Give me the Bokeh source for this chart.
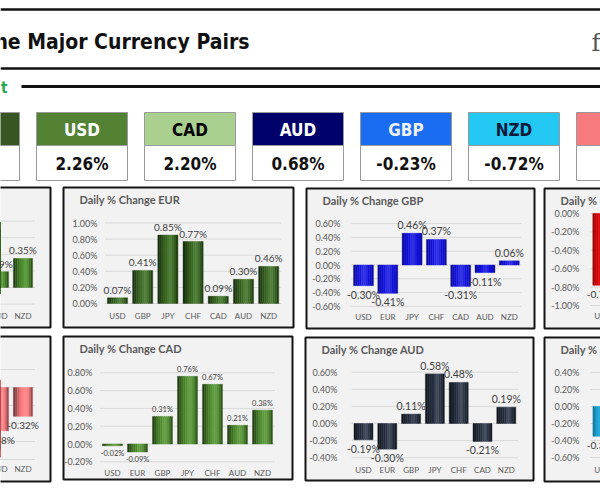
from bokeh.plotting import figure
from bokeh.models import Range1d
from bokeh.core.properties import value
from bokeh.embed import file_html
from bokeh.resources import INLINE

# ---------------- data ----------------
rank_ccy = ["EUR", "USD", "CAD", "AUD", "GBP", "NZD", "CHF", "JPY"]
rank_vals = [2.95, 2.26, 2.20, 0.68, -0.23, -0.72, -3.22, -3.89]
rank_colors = ["#375623", "#548235", "#A9D08E", "#00006B", "#1A6CF0", "#22C8F2", "#F77A7F", "#E00000"]
rank_text_colors = ["white", "white", "black", "white", "#EEF2FF", "#0A1A3A", "black", "white"]

usd_cats = ["EUR", "GBP", "JPY", "CHF", "CAD", "AUD", "NZD"]
usd_vals = [-0.07, 0.30, 0.78, 0.69, 0.02, 0.19, 0.35]
usd_ticks = [-0.2, 0.0, 0.2, 0.4, 0.6, 0.8]

eur_cats = ["USD", "GBP", "JPY", "CHF", "CAD", "AUD", "NZD"]
eur_vals = [0.07, 0.41, 0.85, 0.77, 0.09, 0.30, 0.46]
eur_ticks = [0.0, 0.2, 0.4, 0.6, 0.8, 1.0]

gbp_cats = ["USD", "EUR", "JPY", "CHF", "CAD", "AUD", "NZD"]
gbp_vals = [-0.30, -0.41, 0.46, 0.37, -0.31, -0.11, 0.06]
gbp_ticks = [-0.6, -0.4, -0.2, 0.0, 0.2, 0.4, 0.6]

jpy_cats = ["USD", "EUR", "GBP", "CHF", "CAD", "AUD", "NZD"]
jpy_vals = [-0.78, -0.85, -0.46, -0.08, -0.76, -0.58, -0.38]
jpy_ticks = [-1.0, -0.8, -0.6, -0.4, -0.2, 0.0]

chf_cats = ["USD", "EUR", "GBP", "JPY", "CAD", "AUD", "NZD"]
chf_vals = [-0.69, -0.77, -0.37, 0.08, -0.67, -0.48, -0.32]
chf_ticks = [-0.8, -0.6, -0.4, -0.2, 0.0, 0.2]

cad_cats = ["USD", "EUR", "GBP", "JPY", "CHF", "AUD", "NZD"]
cad_vals = [-0.02, -0.09, 0.31, 0.76, 0.67, 0.21, 0.38]
cad_ticks = [-0.2, 0.0, 0.2, 0.4, 0.6, 0.8]

aud_cats = ["USD", "EUR", "GBP", "JPY", "CHF", "CAD", "NZD"]
aud_vals = [-0.19, -0.30, 0.11, 0.58, 0.48, -0.21, 0.19]
aud_ticks = [-0.4, -0.2, 0.0, 0.2, 0.4, 0.6]

nzd_cats = ["USD", "EUR", "GBP", "JPY", "CHF", "CAD", "AUD"]
nzd_vals = [-0.35, -0.46, -0.06, 0.38, 0.32, -0.38, -0.19]
nzd_ticks = [-0.6, -0.4, -0.2, 0.0, 0.2, 0.4]

# ---------------- canvas ----------------
W, H = 600, 504
p = figure(width=W, height=H, x_range=Range1d(0, W), y_range=Range1d(H, 0),
           output_backend="svg", toolbar_location=None, min_border=0,
           x_axis_location=None, y_axis_location=None, outline_line_color=None,
           background_fill_color="white", border_fill_color="white")
p.grid.visible = False

NARROW = value("DejaVu Sans Condensed")
LATO = value("Lato")


def on_canvas(x):
    return -12 <= x <= W + 12


# header lines
p.segment(x0=[0, 0, 21], x1=[600, 600, 600], y0=[9, 68, 86], y1=[9, 68, 86],
          line_color="#111111", line_width=[2.5, 2.5, 3])
p.text(x=[249], y=[41], text=["The Major Currency Pairs"], text_align="right",
       text_baseline="middle", text_font=NARROW, text_font_style="bold",
       text_font_size="21px", text_color="#111111")
p.text(x=[7], y=[87], text=["t"], text_align="right", text_baseline="middle",
       text_font=NARROW, text_font_style="bold", text_font_size="15px", text_color="#1FA84F")
p.text(x=[591], y=[42], text=["f"], text_align="left", text_baseline="middle",
       text_font=value("DejaVu Serif"), text_font_size="24px", text_color="#555555")

# ranking boxes
pitch_box, bw_box, left0 = 108, 91, 36 - 108
bx0 = [left0 + pitch_box * i for i in range(len(rank_ccy))]
bx1 = [x + bw_box for x in bx0]
bxc = [x + bw_box / 2 for x in bx0]
n_r = len(rank_ccy)
p.quad(left=bx0, right=bx1, top=[112] * n_r, bottom=[145] * n_r,
       fill_color=rank_colors, line_color="#9a9a9a", line_width=1)
p.quad(left=bx0, right=bx1, top=[145] * n_r, bottom=[180] * n_r,
       fill_color="white", line_color="#9a9a9a", line_width=1)
vis = [i for i in range(n_r) if on_canvas(bxc[i])]
p.text(x=[bxc[i] for i in vis], y=[129] * len(vis), text=[rank_ccy[i] for i in vis],
       text_color=[rank_text_colors[i] for i in vis], text_align="center",
       text_baseline="middle", text_font=NARROW, text_font_style="bold", text_font_size="17px")
p.text(x=[bxc[i] for i in vis], y=[163] * len(vis), text=[f"{rank_vals[i]:.2f}%" for i in vis],
       text_color="#111111", text_align="center", text_baseline="middle",
       text_font=NARROW, text_font_style="bold", text_font_size="17px")


def shade(hexcol, f):
    h = hexcol.lstrip("#")
    rgb = [int(h[i:i + 2], 16) for i in (0, 2, 4)]
    out = []
    for c in rgb:
        if f <= 1:
            c2 = c * f
        else:
            c2 = c + (255 - c) * (f - 1)
        out.append(int(max(0, min(255, round(c2)))))
    return "#%02x%02x%02x" % tuple(out)


CYL = [0.45, 0.62, 0.78, 0.9, 1.0, 1.08, 1.12, 1.04, 0.88, 0.62]
FLAT = [0.7, 0.85, 0.95, 1.03, 1.1, 1.12, 1.08, 1.0, 0.92, 0.78]


def panel(cats, vals, ticks, base, box, title, c0, pitch, zero, ppu, tick_right,
          xlab_y, lab_size, bw=0.8, profile=CYL):
    x0, y0, x1, y1 = box
    p.quad(left=[x0], right=[x1], top=[y0], bottom=[y1], fill_color="#f2f2f2",
           line_color="#151515", line_width=2)
    if title is not None:
        p.text(x=[x0 + 16], y=[y0 + 12], text=[title], text_font=LATO, text_font_style="bold",
               text_font_size="11px", text_color="#595959", text_baseline="middle")
    tmin, tmax = min(ticks), max(ticks)
    n = len(cats)
    xs = list(range(n))
    sub = p.subplot(x_source=Range1d(-0.5, n - 0.5), y_source=Range1d(tmin, tmax),
                    x_target=Range1d(c0 - 0.5 * pitch, c0 + (n - 0.5) * pitch),
                    y_target=Range1d(zero - ppu * tmin, zero - ppu * tmax))
    nt = len(ticks)
    sub.segment(x0=[-0.5] * nt, x1=[n - 0.5] * nt, y0=ticks, y1=ticks,
                line_color="#d9d9d9", line_width=1)
    if on_canvas(tick_right - 10):
        sub.text(x=[-0.5] * nt, y=ticks, text=[f"{t + 0.0:.2f}%" for t in ticks],
                 x_offset=-(c0 - 0.5 * pitch - tick_right), text_align="right",
                 text_baseline="middle", text_font=LATO, text_font_size="9px",
                 text_color="#595959")
    cx = [c0 + i * pitch for i in xs]
    shown = [i for i in xs if on_canvas(cx[i])]
    sub.text(x=shown, y=[tmin] * len(shown), text=[cats[i] for i in shown],
             y_offset=xlab_y - (zero - ppu * tmin),
             text_align="center", text_baseline="middle", text_font=LATO,
             text_font_size="8px", text_color="#595959")
    N = len(profile)
    for k, f in enumerate(profile):
        off = ((k + 0.5) / N - 0.5) * bw
        col = shade(base, f)
        sub.vbar(x=[x + off for x in xs], top=vals, bottom=0, width=bw / N,
                 fill_color=col, line_color=col, line_width=0.4)
    pos = [i for i in shown if vals[i] >= 0]
    neg = [i for i in shown if vals[i] < 0]
    fs = f"{lab_size}px"
    sub.text(x=pos, y=[vals[i] for i in pos], text=[f"{vals[i]:.2f}%" for i in pos],
             y_offset=-2, text_align="center", text_baseline="bottom",
             text_font=LATO, text_font_size=fs, text_color="#404040")
    sub.text(x=neg, y=[vals[i] for i in neg], text=[f"{vals[i]:.2f}%" for i in neg],
             y_offset=3, text_align="center", text_baseline="top",
             text_font=LATO, text_font_size=fs, text_color="#404040")


# top row
panel(usd_cats, usd_vals, usd_ticks, "#4a8c2a", (-180, 187, 50, 327), None,
      -121.5, 24, 287, 83, -195, 315, 10)
panel(eur_cats, eur_vals, eur_ticks, "#3a6b22", (63, 187, 293, 327), "Daily % Change EUR",
      117, 25.2, 303, 80.5, 97, 315, 10)
panel(gbp_cats, gbp_vals, gbp_ticks, "#1010e0", (306, 188, 534, 328), "Daily % Change GBP",
      363, 24.3, 264.5, 69, 340, 316, 10.5, bw=0.82, profile=FLAT)
panel(jpy_cats, jpy_vals, jpy_ticks, "#e00000", (544, 188, 775, 328), "Daily % Change JPY",
      602, 24.3, 213, 92, 579, 315, 10, profile=FLAT)
# bottom row
panel(chf_cats, chf_vals, chf_ticks, "#ff7c80", (-180, 336, 50, 481), None,
      -121.5, 24, 387, 90, -195, 468, 10)
panel(cad_cats, cad_vals, cad_ticks, "#4f8f2d", (63, 336, 292, 479), "Daily % Change CAD",
      112, 25, 443.5, 89, 92, 472, 7.5)
panel(aud_cats, aud_vals, aud_ticks, "#263142", (305, 337, 533, 480), "Daily % Change AUD",
      363, 23.8, 423, 85.5, 337, 469, 10.5)
panel(nzd_cats, nzd_vals, nzd_ticks, "#16a8dc", (544, 337, 775, 481), "Daily % Change NZD",
      602, 24, 406, 85, 579, 469, 10, profile=FLAT)

open("out.html", "w").write(file_html(p, INLINE))
